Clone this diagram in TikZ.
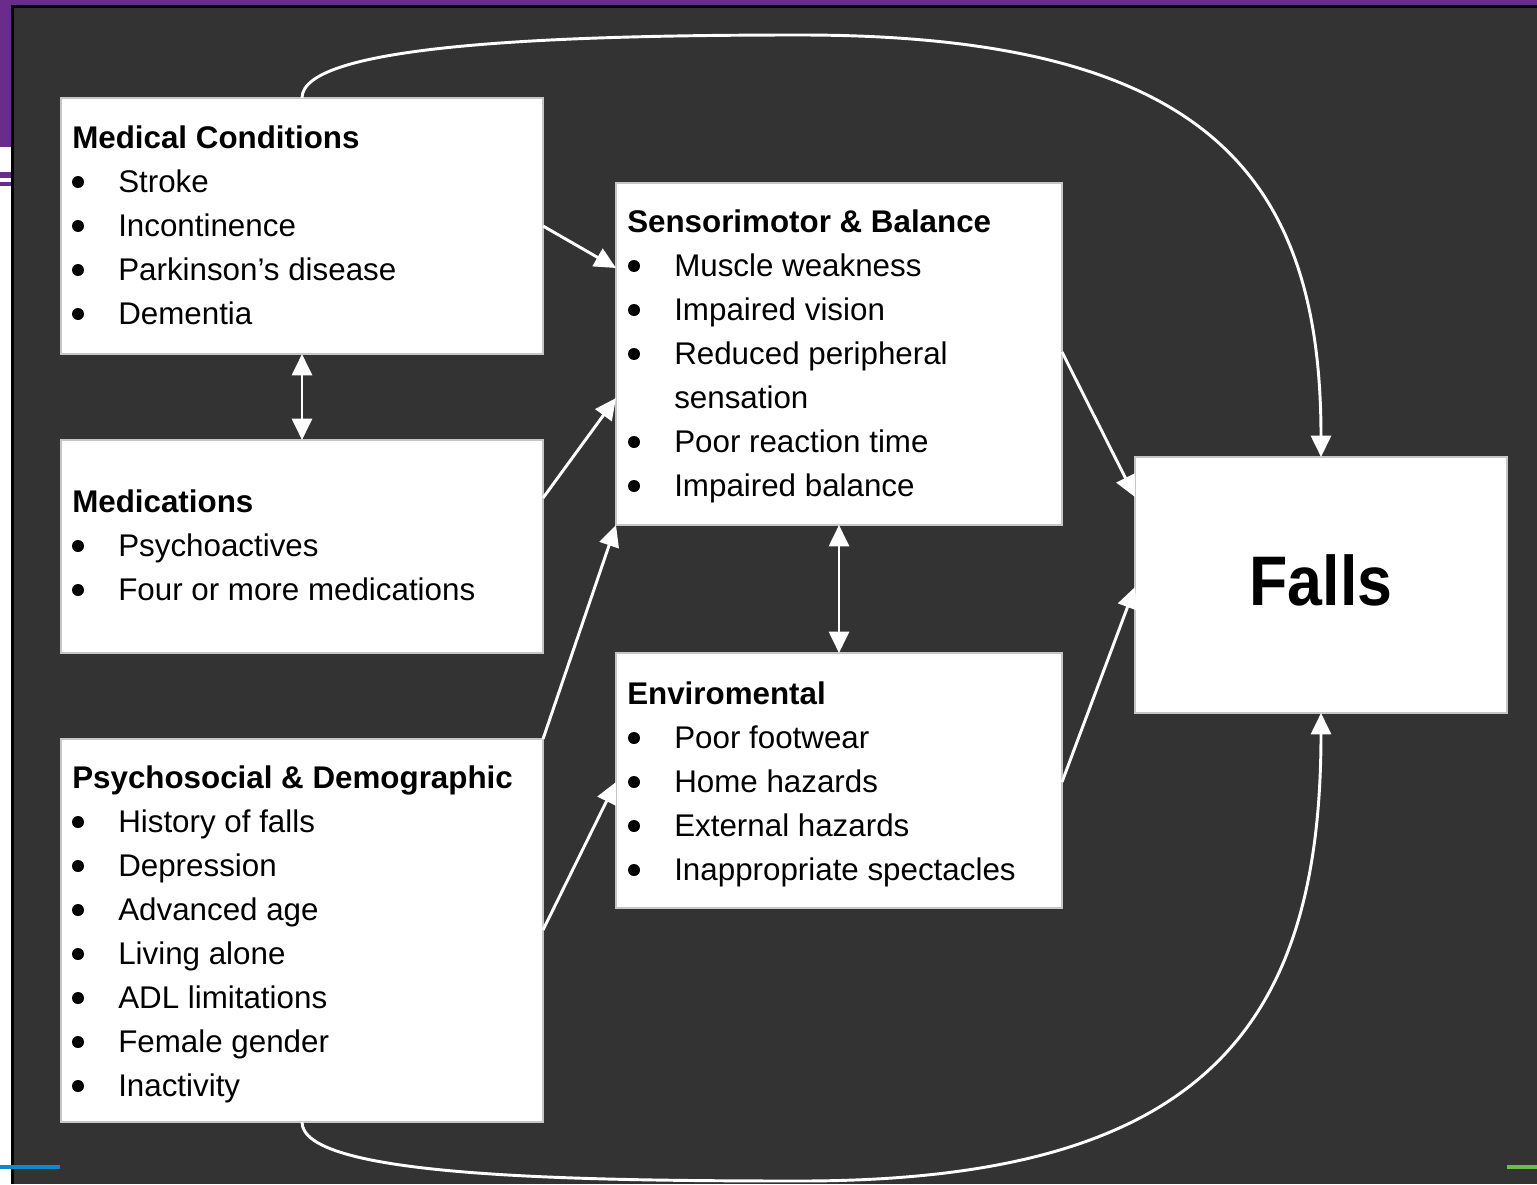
\documentclass[tikz,border=0pt]{standalone}
\usepackage{fontspec}
\setmainfont{Liberation Sans}
\usetikzlibrary{arrows.meta,calc}
\definecolor{bgdark}{HTML}{333333}
\definecolor{purp}{HTML}{6A2C8A}
\definecolor{blu}{HTML}{1188CC}
\definecolor{grn}{HTML}{6DBE45}
\tikzset{
  box/.style={fill=white,draw=gray!45,line width=0.8pt,inner sep=0pt,outer sep=0pt},
  ttl/.style={anchor=base west,inner sep=0pt,font=\fontsize{23.5}{27}\selectfont\bfseries},
  itm/.style={anchor=base west,inner sep=0pt,font=\fontsize{23.5}{27}\selectfont},
  bul/.style={circle,fill=black,inner sep=0pt,minimum size=9pt},
  conn/.style={draw=white,line width=2.2pt,-{Triangle[length=16pt,width=15pt]}},
  dconn/.style={draw=white,line width=2.2pt,{Triangle[length=16pt,width=15pt]}-{Triangle[length=16pt,width=15pt]}},
  curv/.style={draw=white,line width=2.2pt,-{Triangle[length=16pt,width=15pt]}}
}
\begin{document}
\begin{tikzpicture}[x=0.75pt,y=-0.75pt]
\useasboundingbox (0,0) rectangle (1537,1184);
% background
\fill[white] (0,0) rectangle (1537,1184);
\fill[purp] (0,0) rectangle (1537,5);
\fill[purp] (0,0) rectangle (11,147);
\fill[purp] (0,172) rectangle (11,178);
\fill[purp] (0,182) rectangle (11,186);
\fill[black] (11,5) rectangle (1537,1184);
\fill[bgdark] (14,8) rectangle (1537,1184);
\fill[blu] (0,1165) rectangle (60,1169);
\fill[grn] (1507,1165) rectangle (1537,1169);

% boxes
\node[box,minimum width=361.5pt,minimum height=192pt] (med) at (302,226) {};
\node[box,minimum width=361.5pt,minimum height=159.75pt] (mcn) at (302,546.5) {};
\node[box,minimum width=361.5pt,minimum height=287.25pt] (psy) at (302,930.5) {};
\node[box,minimum width=334.5pt,minimum height=256.5pt] (sen) at (839,354) {};
\node[box,minimum width=334.5pt,minimum height=191.25pt] (env) at (839,780.5) {};
\node[box,minimum width=279pt,minimum height=192pt] (fal) at (1321,585) {};

% Medical Conditions
\node[ttl] (medt) at (72,148) {Medical Conditions};
\foreach \t [count=\i] in {Stroke,Incontinence,Parkinson’s disease,Dementia}{
  \node[bul] (medb\i) at (78,{148+44*\i-10}) {};
  \node[itm] (medi\i) at (118,{148+44*\i}) {\t};
}
% Medications
\node[ttl] (mcnt) at (72,512) {Medications};
\foreach \t [count=\i] in {Psychoactives,Four or more medications}{
  \node[bul] (mcnb\i) at (78,{512+44*\i-10}) {};
  \node[itm] (mcni\i) at (118,{512+44*\i}) {\t};
}
% Psychosocial
\node[ttl] (psyt) at (72,788) {Psychosocial \& Demographic};
\foreach \t [count=\i] in {History of falls,Depression,Advanced age,Living alone,ADL limitations,Female gender,Inactivity}{
  \node[bul] (psyb\i) at (78,{788+44*\i-10}) {};
  \node[itm] (psyi\i) at (118,{788+44*\i}) {\t};
}
% Sensorimotor
\node[ttl] (sent) at (627,232) {Sensorimotor \& Balance};
\foreach \t/\y [count=\i] in {Muscle weakness/276,Impaired vision/320,Reduced peripheral/364,Poor reaction time/452,Impaired balance/496}{
  \node[bul] (senb\i) at (634,{\y-10}) {};
  \node[itm] (seni\i) at (674,\y) {\t};
}
\node[itm] (senc) at (674,408) {sensation};
% Environmental
\node[ttl] (envt) at (627,704) {Enviromental};
\foreach \t [count=\i] in {Poor footwear,Home hazards,External hazards,Inappropriate spectacles}{
  \node[bul] (envb\i) at (634,{704+44*\i-10}) {};
  \node[itm] (envi\i) at (674,{704+44*\i}) {\t};
}
% Falls
\node[anchor=base,inner sep=0pt,font=\fontsize{47}{50}\selectfont\bfseries] (falt) at (1321,605) {\scalebox{1}[1.12]{Falls}};

% connectors
\draw[conn] (med.east) -- ($(sen.north west)+(0,85)$);
\draw[dconn] (med.south) -- (mcn.north);
\draw[conn] ($(mcn.north east)+(0,58)$) -- ($(sen.north west)+(0,215)$);
\draw[conn] (psy.north east) -- (sen.south west);
\draw[conn] ($(psy.north east)+(0,191)$) -- ($(env.north west)+(0,129)$);
\draw[conn] ($(sen.north east)+(0,169)$) -- ($(fal.north west)+(0,40)$);
\draw[dconn] (sen.south) -- (env.north);
\draw[conn] ($(env.north east)+(0,129)$) -- ($(fal.north west)+(0,130)$);
\coordinate (topmid) at (800,35);
\coordinate (botmid) at (800,1181);
\draw[curv] (med.north) .. controls (302,45) and (550,35) .. (topmid)
  .. controls (1200,35) and (1321,170) .. (fal.north);
\draw[curv] (psy.south) .. controls (302,1175) and (550,1181) .. (botmid)
  .. controls (1200,1181) and (1321,1030) .. (fal.south);
\end{tikzpicture}
\end{document}
